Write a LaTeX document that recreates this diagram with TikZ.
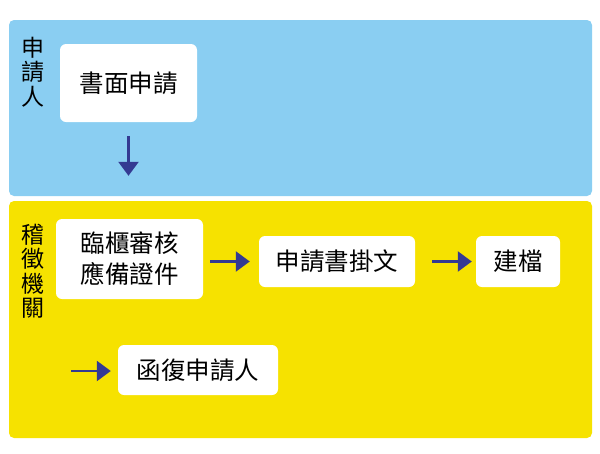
\documentclass[tikz,border=0pt]{standalone}
\usepackage{fontspec}
\newfontfamily\cjk{Noto Sans CJK TC}
\usetikzlibrary{arrows.meta}
\definecolor{skyband}{RGB}{138,206,242}
\definecolor{goldband}{RGB}{246,226,0}
\definecolor{flowblue}{RGB}{52,58,146}
\begin{document}
\begin{tikzpicture}[x=1pt, y=-1pt,
  stepbox/.style={fill=white, rounded corners=6pt, inner sep=0pt, align=center,
    font=\cjk\fontsize{24.5}{31}\selectfont},
  lanelabel/.style={inner sep=0pt, align=center, font=\cjk\fontsize{23}{24.5}\selectfont},
  flow/.style={draw=flowblue, line width=2.4pt, -{Triangle[width=20pt,length=14pt]}}]
\useasboundingbox (0,0) rectangle (600,453);
\fill[skyband, rounded corners=5pt] (9,20) rectangle (592,196);
\fill[goldband, rounded corners=5pt] (9,201) rectangle (592,438);

\node[lanelabel] (applicant) at (33,72) {申\\請\\人};
\node[lanelabel] (office) at (33,271) {稽\\徵\\機\\關};

\node[stepbox, minimum width=137pt, minimum height=78pt] (written) at (128.5,83) {書面申請};
\node[stepbox, minimum width=147pt, minimum height=80pt] (counter) at (129.5,259) {臨櫃審核\\應備證件};
\node[stepbox, minimum width=156pt, minimum height=51pt] (posting) at (337,261.5) {申請書掛文};
\node[stepbox, minimum width=84pt, minimum height=51pt] (archive) at (518,261.5) {建檔};
\node[stepbox, minimum width=160pt, minimum height=50pt] (reply) at (198,370) {函復申請人};
\coordinate (replyin) at (71,371);

\draw[flow, shorten <=14pt, shorten >=43pt] (written.south) -- (written.south |- counter.north);
\draw[flow, shorten <=7pt, shorten >=9pt] (counter.east |- posting.west) -- (posting.west);
\draw[flow, shorten <=17pt, shorten >=4pt] (posting.east) -- (archive.west);
\draw[flow, shorten >=7pt] (replyin) -- (replyin -| reply.west);
\end{tikzpicture}
\end{document}
